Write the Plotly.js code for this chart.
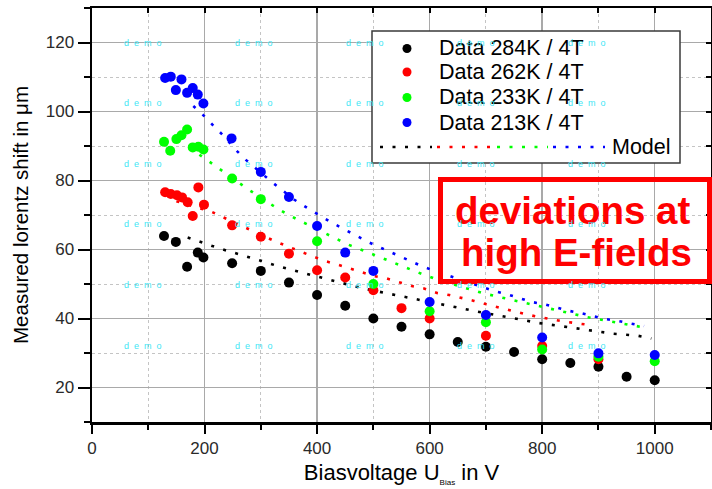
<!DOCTYPE html>
<html>
<head>
<meta charset="utf-8">
<script src="https://cdn.plot.ly/plotly-3.0.1.min.js"></script>
<style>html,body{margin:0;padding:0;background:#fff;}#chart{width:712px;height:489px;}</style>
</head>
<body>
<div id="chart"></div>
<script>
// ---------- data ----------
const seriesNames = ['Data 284K / 4T', 'Data 262K / 4T', 'Data 233K / 4T', 'Data 213K / 4T'];
const seriesColors = ['#000000', '#ff0000', '#00ff00', '#0000ff'];

const v284 = [128, 149, 169, 188, 198, 249, 300, 350, 400, 450, 500, 550, 600, 650, 700, 750, 800, 850, 900, 950, 1000];
const y284 = [63.9, 62.2, 55.0, 59.1, 57.7, 56.0, 53.8, 50.4, 46.8, 43.7, 40.0, 37.6, 35.4, 33.2, 31.8, 30.3, 28.2, 27.1, 26.0, 23.1, 22.1];

const v262 = [130, 140, 151, 160, 170, 179, 189, 199, 249, 300, 350, 400, 450, 500, 550, 600, 700, 800, 900];
const y262 = [76.6, 76.1, 75.7, 75.1, 73.7, 69.7, 78.0, 73.0, 67.0, 63.7, 58.8, 54.0, 51.9, 48.2, 43.0, 40.0, 35.0, 32.0, 28.2];

const v233 = [128, 139, 150, 159, 169, 179, 189, 198, 249, 300, 400, 500, 600, 700, 800, 900, 1000];
const y233 = [91.2, 88.6, 92.0, 93.1, 94.8, 89.6, 89.8, 89.0, 80.6, 74.6, 62.4, 50.0, 42.1, 38.9, 31.0, 28.9, 27.6];

const v213 = [130, 140, 149, 159, 169, 179, 188, 198, 248, 300, 350, 400, 450, 500, 600, 700, 800, 900, 1000];
const y213 = [109.7, 110.1, 106.2, 109.3, 105.4, 106.8, 104.9, 102.3, 92.2, 82.5, 75.2, 66.8, 59.1, 53.8, 44.8, 41.0, 34.5, 29.9, 29.4];

// model curves (dotted)
const mv284 = [170, 192, 214, 237, 259, 281, 303, 326, 348, 370, 392, 482, 547, 615, 682, 749, 793, 837, 882, 926, 970, 994];
const my284 = [63.5, 62.2, 61.0, 59.8, 58.8, 57.7, 56.6, 55.4, 54.5, 53.5, 52.5, 48.7, 46.5, 44.2, 42.1, 40.1, 38.7, 37.7, 36.6, 35.6, 35.0, 34.2];

const mv262 = [150, 191, 213, 235, 280, 325, 369, 391, 413, 435, 457, 479, 501, 524, 546, 568, 590, 613, 635, 657, 679, 701, 725, 747, 769, 792, 814, 836, 858, 880];
const my262 = [74.0, 71.9, 70.9, 69.2, 65.8, 62.4, 59.5, 58.1, 56.7, 55.7, 54.5, 53.5, 52.3, 51.6, 50.6, 49.4, 48.7, 47.4, 46.8, 46.0, 45.1, 44.1, 43.1, 42.1, 41.3, 40.5, 39.8, 39.2, 38.7, 38.2];

const mv233 = [175, 188, 209, 232, 276, 321, 343, 365, 388, 410, 432, 454, 476, 499, 522, 544, 565, 588, 610, 654, 677, 698, 722, 744, 766, 788, 811, 833, 855, 877, 900, 922, 944, 966, 988];
const my233 = [90.0, 87.8, 85.4, 82.8, 77.6, 72.8, 70.6, 68.7, 66.8, 64.9, 63.2, 61.5, 60.1, 58.6, 57.1, 55.6, 54.2, 52.8, 51.5, 49.2, 48.2, 47.2, 46.3, 45.4, 44.5, 43.7, 42.9, 42.0, 41.2, 40.5, 39.8, 39.1, 38.5, 37.9, 37.2];

const mv213 = [180, 200, 218, 236, 254, 274, 317, 337, 359, 382, 403, 426, 449, 472, 493, 516, 539, 560, 583, 605, 627, 649, 716, 738, 759, 781, 804, 826, 848, 870, 892, 914, 937, 959, 981];
const my213 = [101.6, 98.6, 95.5, 92.6, 89.1, 85.9, 79.9, 77.2, 74.5, 72.1, 70.0, 67.8, 65.8, 63.7, 62.0, 60.3, 58.6, 56.9, 55.4, 54.0, 52.8, 51.4, 47.9, 47.0, 45.9, 44.8, 44.1, 43.1, 42.2, 41.5, 40.7, 39.8, 39.2, 38.4, 37.8];

const xTitle = 'Biasvoltage U<sub><span style="font-size:8px">Bias</span></sub> in V';
const yTitle = 'Measured lorentz shift in μm';
const modelLabel = 'Model';
const noteLines = ['deviations at', 'high E-fields'];
const watermark = 'd\u00a0\u00a0e\u00a0\u00a0m\u00a0\u00a0o';

// ---------- build ----------
const FONT = 'Liberation Sans, Arial, sans-serif';
const dataX = [v284, v262, v233, v213];
const dataY = [y284, y262, y233, y213];
const modX = [mv284, mv262, mv233, mv213];
const modY = [my284, my262, my233, my213];

const DOT = '3px,9.5px';
const traces = [];
for (let i = 0; i < 4; i++) {
  traces.push({
    type: 'scatter', mode: 'lines', x: modX[i], y: modY[i],
    line: {color: seriesColors[i], width: 2.6, dash: DOT},
    showlegend: false, hoverinfo: 'skip'
  });
}
for (let i = 0; i < 4; i++) {
  traces.push({
    type: 'scatter', mode: 'markers', name: seriesNames[i], x: dataX[i], y: dataY[i],
    marker: {color: seriesColors[i], size: 10, symbol: 'circle', line: {width: 0}},
    showlegend: false
  });
}
// invisible trace so the mirrored frame axes exist
traces.push({type: 'scatter', mode: 'markers', x: v284, y: y284, xaxis: 'x2', yaxis: 'y2',
  marker: {opacity: 0}, showlegend: false, hoverinfo: 'skip'});

// plot-area pixel geometry (for paper conversions of decorations)
const L = 92, R = 711, T = 8, B = 422;
const px = x => (x - L) / (R - L);
const py = y => (B - y) / (B - T);

const shapes = [];
const annotations = [];

// watermark grid
const wmX = [143, 254, 365, 476, 587];
const wmY = [43, 103, 164, 224, 285, 346];

// legend box
shapes.push({type: 'rect', xref: 'paper', yref: 'paper', x0: px(372), x1: px(680), y0: py(163), y1: py(31),
  fillcolor: '#ffffff', line: {color: '#3a3a3a', width: 1.5}, layer: 'above'});
const legRows = [48.5, 72, 97.5, 122.5];
for (let i = 0; i < 4; i++) {
  shapes.push({type: 'circle', xref: 'paper', yref: 'paper', xsizemode: 'pixel', ysizemode: 'pixel',
    xanchor: px(407), yanchor: py(legRows[i]), x0: -4.5, x1: 4.5, y0: -4.5, y1: 4.5,
    fillcolor: seriesColors[i], line: {width: 0}, layer: 'above'});
  annotations.push({xref: 'paper', yref: 'paper', x: px(437), y: py(legRows[i]), xanchor: 'left', yanchor: 'middle',
    text: seriesNames[i], showarrow: false, font: {family: FONT, size: 21.5, color: '#000'}});
}
const segs = [[380, 432], [437, 490], [497, 548], [553, 605]];
for (let i = 0; i < 4; i++) {
  shapes.push({type: 'line', xref: 'paper', yref: 'paper', x0: px(segs[i][0]), x1: px(segs[i][1]),
    y0: py(147), y1: py(147), line: {color: seriesColors[i], width: 2.6, dash: DOT}, layer: 'above'});
}
annotations.push({xref: 'paper', yref: 'paper', x: px(673), y: py(147), xanchor: 'right', yanchor: 'middle',
  text: modelLabel, showarrow: false, font: {family: FONT, size: 21.5, color: '#000'}});

// red note box (transparent fill)
shapes.push({type: 'rect', xref: 'paper', yref: 'paper', x0: px(440.5), x1: px(709.5), y0: py(281.5), y1: py(179.5),
  fillcolor: 'rgba(0,0,0,0)', line: {color: '#ff0000', width: 5}, layer: 'above'});
annotations.push({xref: 'paper', yref: 'paper', x: px(573), y: py(211), xanchor: 'center', yanchor: 'middle',
  text: '<b>' + noteLines[0] + '</b>', showarrow: false, font: {family: FONT, size: 38.5, color: '#ff0000'}});
annotations.push({xref: 'paper', yref: 'paper', x: px(576), y: py(253), xanchor: 'center', yanchor: 'middle',
  text: '<b>' + noteLines[1] + '</b>', showarrow: false, font: {family: FONT, size: 38.5, color: '#ff0000'}});

for (const wx of wmX) for (const wy of wmY) {
  annotations.push({xref: 'paper', yref: 'paper', x: px(wx), y: py(wy), xanchor: 'center', yanchor: 'middle',
    text: watermark, showarrow: false, font: {family: FONT, size: 9, color: '#3fe6f5'}});
}

const axCommon = {
  showline: true, linecolor: '#000', linewidth: 2.5, mirror: false, zeroline: false,
  ticks: 'outside', tickcolor: '#000', tickwidth: 2,
  showgrid: true, gridcolor: '#a9a9a9', gridwidth: 1.5,
  tickfont: {family: FONT, size: 17, color: '#2a2a2a'}
};

const layout = {
  width: 712, height: 489,
  margin: {l: L, r: 712 - R, t: T, b: 489 - B},
  paper_bgcolor: '#fff', plot_bgcolor: '#fff',
  showlegend: false,
  font: {family: FONT},
  xaxis: Object.assign({}, axCommon, {
    range: [0, 1100], tick0: 0, dtick: 200, ticklen: 9,
    minor: {dtick: 100, ticks: 'outside', ticklen: 5, tickwidth: 2, tickcolor: '#000',
      showgrid: true, gridcolor: '#c4c4c4', griddash: 'dot', gridwidth: 1},
    title: {text: xTitle, font: {family: FONT, size: 22, color: '#000'}, standoff: 8}
  }),
  yaxis: Object.assign({}, axCommon, {
    range: [10, 130], tick0: 0, dtick: 20, ticklen: 12,
    minor: {dtick: 10, ticks: 'outside', ticklen: 6, tickwidth: 2, tickcolor: '#000',
      showgrid: true, gridcolor: '#c4c4c4', griddash: 'dot', gridwidth: 1},
    title: {text: yTitle, font: {family: FONT, size: 20.5, color: '#000'}, standoff: 12}
  }),
  xaxis2: {overlaying: 'x', side: 'top', anchor: 'y', range: [0, 1100], tick0: 0, dtick: 100,
    showline: true, linecolor: '#000', linewidth: 2.5, ticks: 'inside', ticklen: 5, tickwidth: 2, tickcolor: '#000',
    showticklabels: false, showgrid: false, zeroline: false},
  yaxis2: {overlaying: 'y', side: 'right', anchor: 'x', range: [10, 130], tick0: 0, dtick: 10,
    showline: true, linecolor: '#000', linewidth: 2.5, ticks: 'inside', ticklen: 5, tickwidth: 2, tickcolor: '#000',
    showticklabels: false, showgrid: false, zeroline: false},
  shapes: shapes,
  annotations: annotations
};

Plotly.newPlot('chart', traces, layout, {staticPlot: true, displayModeBar: false});
</script>
</body>
</html>
